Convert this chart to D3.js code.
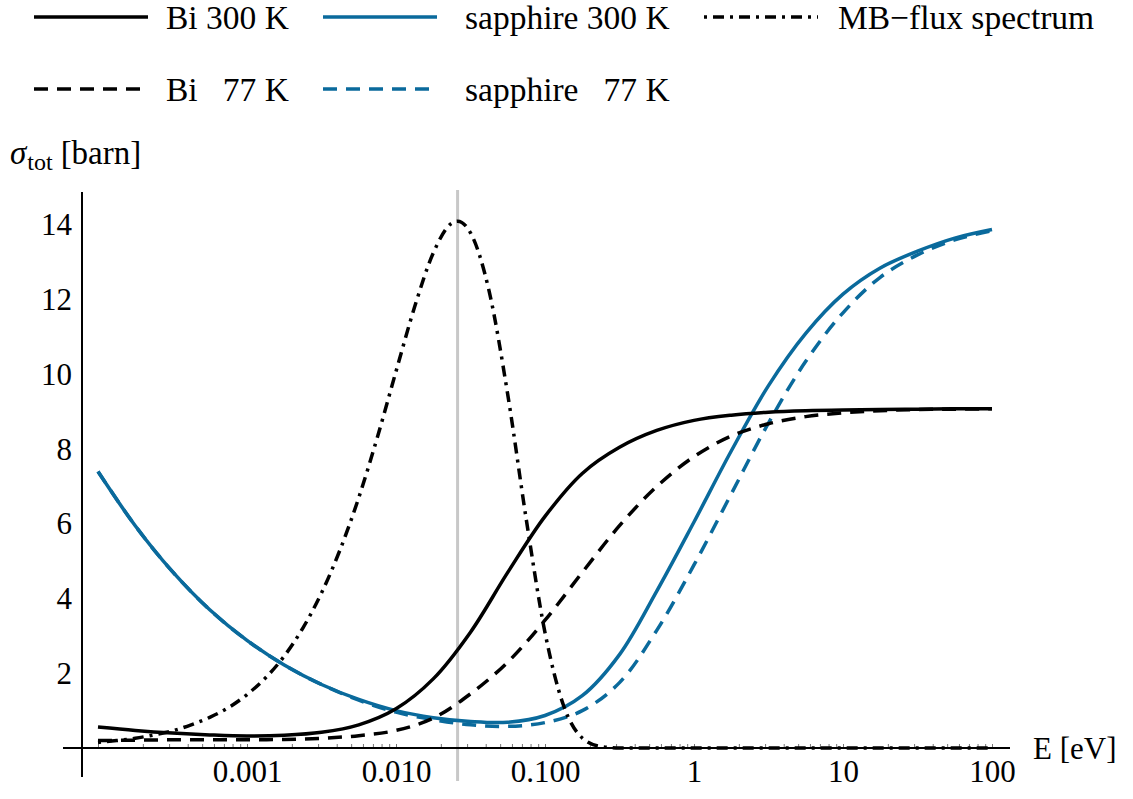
<!DOCTYPE html>
<html>
<head>
<meta charset="utf-8">
<script src="https://cdn.jsdelivr.net/npm/d3@7"></script>
</head>
<body style="margin:0; background:#fff">
<svg id="chart" width="1133" height="799"></svg>
<script>
var serif = '"Liberation Serif"';

// energy grid, quarter decades (eV)
var energy = [1e-4, 1.778e-4, 3.162e-4, 5.623e-4,
              1e-3, 1.778e-3, 3.162e-3, 5.623e-3,
              0.01, 0.01778, 0.03162, 0.05623,
              0.1, 0.1778, 0.3162, 0.5623,
              1, 1.778, 3.162, 5.623,
              10, 17.78, 31.62, 56.23, 100];

var bi300 = [0.56, 0.47, 0.4, 0.35, 0.32, 0.34, 0.42, 0.62, 1.05, 1.85, 3.1, 4.7,
             6.2, 7.35, 8.05, 8.5, 8.77, 8.91, 8.99, 9.03, 9.05, 9.06, 9.07, 9.08, 9.08];
var bi77 = [0.2, 0.21, 0.22, 0.22, 0.22, 0.23, 0.26, 0.33, 0.47, 0.8, 1.45, 2.3,
            3.42, 4.7, 5.95, 7.0, 7.8, 8.35, 8.68, 8.87, 8.97, 9.03, 9.06, 9.07, 9.08];
var sapph300 = [7.4, 5.95, 4.72, 3.7, 2.88, 2.22, 1.7, 1.3, 1.0, 0.81, 0.71, 0.69,
                0.87, 1.4, 2.5, 4.2, 6.05, 7.95, 9.7, 11.1, 12.15, 12.85, 13.3, 13.65, 13.88];
var sapph77 = [7.4, 5.95, 4.72, 3.7, 2.88, 2.22, 1.7, 1.28, 0.96, 0.76, 0.62, 0.58,
               0.68, 1.0, 1.75, 3.15, 4.9, 6.8, 8.7, 10.35, 11.65, 12.6, 13.2, 13.6, 13.85];

// MB flux spectrum, finer grid (eV)
var mbEnergy = [1e-4, 1.334e-4, 1.778e-4, 2.371e-4, 3.162e-4, 4.217e-4, 5.623e-4, 7.499e-4,
                1e-3, 1.334e-3, 1.778e-3, 2.371e-3, 3.162e-3, 4.217e-3, 5.623e-3, 7.499e-3,
                0.01, 0.01334, 0.01778, 0.02371, 0.0259, 0.03162, 0.04217, 0.05623, 0.07499,
                0.1, 0.1334, 0.1778, 0.2371, 0.3162, 1, 10, 100];
var mbFlux = [0.15, 0.20, 0.26, 0.35, 0.46, 0.62, 0.82, 1.08,
              1.43, 1.88, 2.46, 3.21, 4.15, 5.31, 6.70, 8.32,
              10.08, 11.81, 13.25, 14.05, 14.1, 13.79, 12.23, 9.46, 6.10,
              3.09, 1.13, 0.27, 0.04, 0, 0, 0, 0];

var kT = 0.0259;
var xTicks = [0.001, 0.01, 0.1, 1, 10, 100];
var xTickLabels = ['0.001', '0.010', '0.100', '1', '10', '100'];
var yTicks = [2, 4, 6, 8, 10, 12, 14];

var blue = '#0a6a9c';

var svg = d3.select('#chart').attr('font-family', serif);
var x = d3.scaleLog().domain([0.001, 100]).range([247, 992]);
var y = d3.scaleLinear().domain([0, 14]).range([748, 225]);

// thermal energy marker
svg.append('line')
	.attr('x1', x(kT)).attr('x2', x(kT))
	.attr('y1', 190).attr('y2', 781)
	.attr('stroke', '#c8c8c8').attr('stroke-width', 3);

// minor ticks on x axis
var minor = [];
for (var p = -4; p <= 1; p++) {
	for (var k = 1; k <= 9; k++) minor.push(k * Math.pow(10, p));
}
minor.push(100);
svg.append('g')
	.attr('transform', 'translate(0,' + y(0) + ')')
	.call(d3.axisTop(x).tickValues(minor).tickSize(4).tickFormat(''))
	.call(function(g) {
		g.select('.domain').remove();
		g.selectAll('.tick line').attr('stroke', '#777');
	});

// x labels
svg.append('g')
	.attr('transform', 'translate(0,' + y(0) + ')')
	.call(d3.axisBottom(x).tickValues(xTicks).tickSize(0).tickPadding(12)
		.tickFormat(function(d, i) { return xTickLabels[i]; }))
	.call(function(g) {
		g.attr('font-family', serif).attr('font-size', 31);
		g.select('.domain').remove();
		g.selectAll('text').attr('fill', '#000');
	});

// y labels
svg.append('g')
	.attr('transform', 'translate(82,0)')
	.call(d3.axisLeft(y).tickValues(yTicks).tickSize(0).tickPadding(10))
	.call(function(g) {
		g.attr('font-family', serif).attr('font-size', 31);
		g.select('.domain').remove();
		g.selectAll('text').attr('fill', '#000');
	});

// axis lines
svg.append('line').attr('x1', 63).attr('x2', 1010).attr('y1', y(0)).attr('y2', y(0))
	.attr('stroke', '#000').attr('stroke-width', 2);
svg.append('line').attr('x1', 82).attr('x2', 82).attr('y1', 192).attr('y2', 777)
	.attr('stroke', '#000').attr('stroke-width', 2);

// axis titles
var yl = svg.append('text').attr('x', 10).attr('y', 164).attr('font-size', 33);
yl.append('tspan').attr('font-style', 'italic').text('σ');
yl.append('tspan').attr('font-size', 24).attr('dy', 6).attr('dx', 1).text('tot');
yl.append('tspan').attr('dy', -6).attr('dx', 8).text('[barn]');

svg.append('text').attr('x', 1033).attr('y', 759).attr('font-size', 31).text('E [eV]');

// curves
var smooth = d3.line()
	.x(function(d) { return x(d[0]); })
	.y(function(d) { return y(d[1]); })
	.curve(d3.curveCatmullRom.alpha(0.5));
var mono = d3.line()
	.x(function(d) { return x(d[0]); })
	.y(function(d) { return y(d[1]); })
	.curve(d3.curveMonotoneX);

function zip(xs, ys) { return xs.map(function(e, i) { return [e, ys[i]]; }); }

var series = [
	{ name: 'sapphire\u00a0\u00a0\u00a077 K', data: zip(energy, sapph77), color: blue, dash: '14,9', gen: smooth },
	{ name: 'sapphire 300 K', data: zip(energy, sapph300), color: blue, dash: null, gen: smooth },
	{ name: 'Bi\u00a0\u00a0\u00a077 K', data: zip(energy, bi77), color: '#000', dash: '14,9', gen: smooth },
	{ name: 'Bi 300 K', data: zip(energy, bi300), color: '#000', dash: null, gen: smooth },
	{ name: 'MB\u2212flux spectrum', data: zip(mbEnergy, mbFlux), color: '#000', dash: '3,6,11,6', gen: mono }
];

svg.append('g').selectAll('path')
	.data(series)
	.enter().append('path')
	.attr('d', function(s) { return s.gen(s.data); })
	.attr('fill', 'none')
	.attr('stroke', function(s) { return s.color; })
	.attr('stroke-width', 3.5)
	.attr('stroke-dasharray', function(s) { return s.dash; });

// legend
var legend = [
	{ s: series[3], lx: 34, tx: 166, ly: 17 },
	{ s: series[1], lx: 323, tx: 465, ly: 17 },
	{ s: series[4], lx: 704, tx: 838, ly: 17 },
	{ s: series[2], lx: 34, tx: 166, ly: 89 },
	{ s: series[0], lx: 323, tx: 465, ly: 89 }
];
var lg = svg.append('g').selectAll('g').data(legend).enter().append('g');
lg.append('line')
	.attr('x1', function(d) { return d.lx; })
	.attr('x2', function(d) { return d.lx + 114; })
	.attr('y1', function(d) { return d.ly; })
	.attr('y2', function(d) { return d.ly; })
	.attr('stroke', function(d) { return d.s.color; })
	.attr('stroke-width', 3.5)
	.attr('stroke-dasharray', function(d) { return d.s.dash; });
lg.append('text')
	.attr('x', function(d) { return d.tx; })
	.attr('y', function(d) { return d.ly + 12; })
	.attr('font-size', 33.5)
	.text(function(d) { return d.s.name; });
</script>
</body>
</html>
